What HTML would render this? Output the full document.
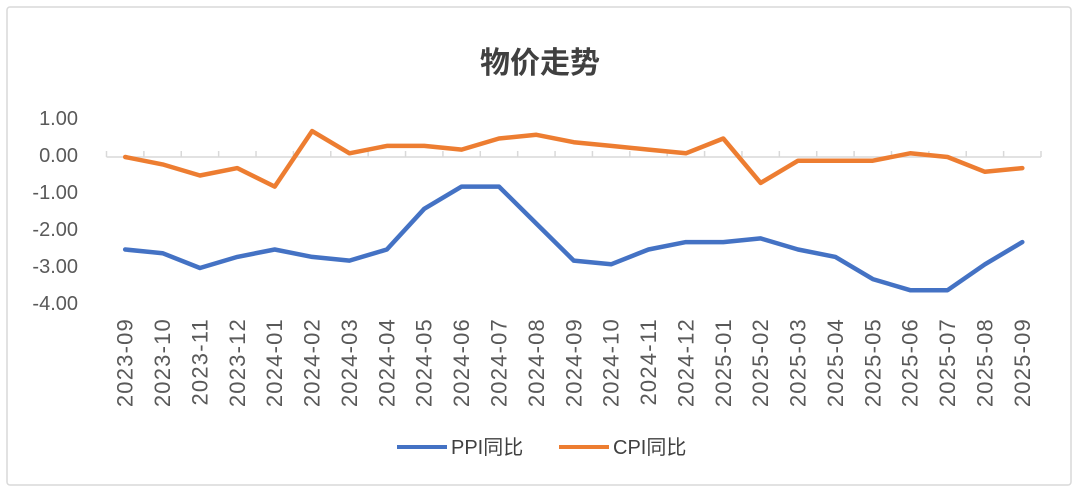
<!DOCTYPE html>
<html><head><meta charset="utf-8"><style>
body{margin:0;background:#fff;}
svg text{font-family:"Liberation Sans","Noto Sans CJK SC",sans-serif;}
</style></head><body>
<svg id="chart" width="1080" height="495" viewBox="0 0 1080 495">
<rect x="7" y="7" width="1064" height="478" rx="3" fill="#fff" stroke="#d9d9d9" stroke-width="1.5"/>
<text x="540" y="73" text-anchor="middle" font-size="30" font-weight="bold" fill="#404040">物价走势</text>
<g id="yaxis"></g><g id="xaxis"></g><g id="series"></g>
<g>
<line x1="397" y1="447" x2="447" y2="447" stroke="#4472c4" stroke-width="4"/>
<text x="451" y="454" font-size="20" fill="#404040">PPI同比</text>
<line x1="559" y1="447" x2="609" y2="447" stroke="#ed7d31" stroke-width="4"/>
<text x="613" y="454" font-size="20" fill="#404040">CPI同比</text>
</g>
</svg>
<script>
const categories=["2023-09","2023-10","2023-11","2023-12","2024-01","2024-02","2024-03","2024-04","2024-05","2024-06","2024-07","2024-08","2024-09","2024-10","2024-11","2024-12","2025-01","2025-02","2025-03","2025-04","2025-05","2025-06","2025-07","2025-08","2025-09"];
const ppiValues=[-2.5,-2.6,-3.0,-2.7,-2.5,-2.7,-2.8,-2.5,-1.4,-0.8,-0.8,-1.8,-2.8,-2.9,-2.5,-2.3,-2.3,-2.2,-2.5,-2.7,-3.3,-3.6,-3.6,-2.9,-2.3];
const cpiValues=[0.0,-0.2,-0.5,-0.3,-0.8,0.7,0.1,0.3,0.3,0.2,0.5,0.6,0.4,0.3,0.2,0.1,0.5,-0.7,-0.1,-0.1,-0.1,0.1,0.0,-0.4,-0.3];
const yTicks=[1,0,-1,-2,-3,-4];
const NS="http://www.w3.org/2000/svg";
const x0=106.5,x1=1041,step=(x1-x0)/categories.length;
function xs(i){return x0+step*(i+0.5);}
function ys(v){return 157-v*37;}
function mk(t,a,p){const e=document.createElementNS(NS,t);for(const k in a)e.setAttribute(k,a[k]);p.appendChild(e);return e;}
const ya=document.getElementById('yaxis');
yTicks.forEach(v=>{const t=mk('text',{x:78,y:ys(v)+5,'text-anchor':'end','font-size':20,fill:'#595959'},ya);


t.textContent=v.toFixed(2);});
const xa=document.getElementById('xaxis');
const al=mk('line',{x1:x0,y1:ys(0),x2:x1,y2:ys(0),stroke:'#d9d9d9','stroke-width':1.5},xa);


for(let i=0;i<=categories.length;i++){const tk=mk('line',{x1:x0+step*i,y1:ys(0),x2:x0+step*i,y2:ys(0)-6,stroke:'#d9d9d9','stroke-width':1.5},xa);

}
categories.forEach((c,i)=>{const x=xs(i)+7.5,y=318;const t=mk('text',{x:x,y:y,'text-anchor':'end','font-size':22,'letter-spacing':1.2,fill:'#595959',transform:`rotate(-90 ${x} ${y})`},xa);


t.textContent=c;});
const sg=document.getElementById('series');
function line(vals,color,name){const p=mk('polyline',{points:vals.map((v,i)=>xs(i)+','+ys(v)).join(' '),fill:'none',stroke:color,'stroke-width':4.5,'stroke-linejoin':'round','stroke-linecap':'round'},sg);

}
line(cpiValues,'#ed7d31','cpi-line');
line(ppiValues,'#4472c4','ppi-line');
</script>
</body></html>
